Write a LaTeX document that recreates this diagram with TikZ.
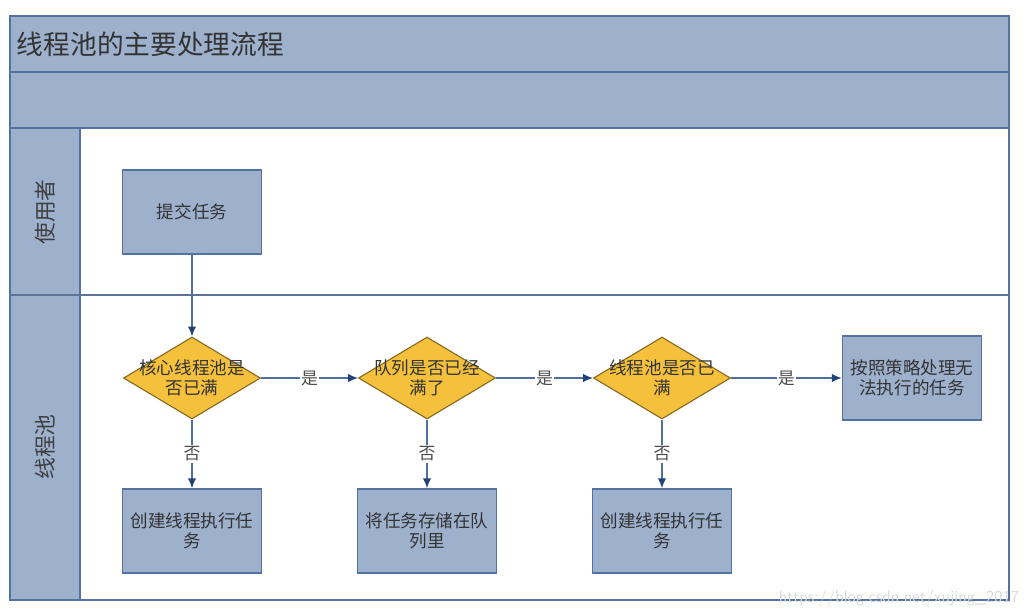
\documentclass[tikz,border=0pt]{standalone}
\usepackage{fontspec}
\newfontfamily\cjk{Noto Sans CJK SC}
\usetikzlibrary{shapes.geometric,arrows.meta}
\definecolor{faixa}{HTML}{9DB0CC}
\definecolor{borda}{HTML}{5272A0}
\definecolor{losango}{HTML}{F5C13D}
\definecolor{seta}{HTML}{4F6F9E}
\definecolor{ponta}{HTML}{23427A}
\tikzset{
  caixa/.style={draw=borda,fill=faixa,line width=1.2pt,minimum width=139*0.025cm,minimum height=84*0.025cm,align=center,font=\cjk\fontsize{12.5}{14}\selectfont,text=black!80},
  decisao/.style={diamond,draw=black!45!losango,fill=losango,line width=0.8pt,inner sep=0pt,minimum width=137*0.025cm,minimum height=82*0.025cm},
  fluxo/.style={draw=seta,line width=1pt,-{Latex[length=7pt,width=6pt,fill=ponta,color=ponta]}},
  rotulo/.style={fill=white,inner sep=1pt,font=\cjk\fontsize{12}{14}\selectfont,text=black!70},
}
\begin{document}
\begin{tikzpicture}[x=0.025cm,y=-0.025cm]
\useasboundingbox (0,0) rectangle (1032,614);

% Faixas
\fill[faixa] (10,16) rectangle (1009,128);
\fill[faixa] (10,128) rectangle (80,600);
\draw[borda,line width=1.5pt] (10,72) -- (1009,72);
\draw[borda,line width=1.5pt] (10,128) -- (1009,128);
\draw[borda,line width=1pt] (80,128) -- (80,600);
\draw[borda!80!gray,line width=1pt] (10,295) -- (1009,295);
\draw[borda,line width=1.8pt] (10,16) rectangle (1009,600);

\node[anchor=west,font=\cjk\fontsize{19}{22}\selectfont,text=black!80] (titulo) at (12,44) {线程池的主要处理流程};
\node[rotate=90,font=\cjk\fontsize{15.5}{18}\selectfont,text=black!75] (usuario) at (45,212) {使用者};
\node[rotate=90,font=\cjk\fontsize{15.5}{18}\selectfont,text=black!75] (pool) at (45,447) {线程池};

% Caixas
\node[caixa] (submeter) at (192,212) {提交任务};
\node[decisao,label={[font=\cjk\fontsize{12.5}{14}\selectfont,align=center,text=black!80]center:核心线程池是\\否已满}] (d1) at (192,378) {};
\node[decisao,label={[font=\cjk\fontsize{12.5}{14}\selectfont,align=center,text=black!80]center:队列是否已经\\满了}] (d2) at (427,378) {};
\node[decisao,label={[font=\cjk\fontsize{12.5}{14}\selectfont,align=center,text=black!80]center:线程池是否已\\满}] (d3) at (662,378) {};
\node[caixa] (politica) at (912,378) {按照策略处理无\\法执行的任务};
\node[caixa] (criar1) at (192,531) {创建线程执行任\\务};
\node[caixa] (fila) at (427,531) {将任务存储在队\\列里};
\node[caixa] (criar2) at (662,531) {创建线程执行任\\务};

% Setas
\draw[fluxo] (submeter) -- (d1);
\draw[fluxo] (d1) -- node[rotulo] {是} (d2);
\draw[fluxo] (d2) -- node[rotulo] {是} (d3);
\draw[fluxo] (d3) -- node[rotulo] {是} (politica);
\draw[fluxo] (d1) -- node[rotulo] {否} (criar1);
\draw[fluxo] (d2) -- node[rotulo] {否} (fila);
\draw[fluxo] (d3) -- node[rotulo] {否} (criar2);

% Marca
\node[anchor=east,font=\fontsize{12}{14}\sffamily,text=black!15] (marca) at (1024,598) {https://blog.csdn.net/xujing\_2017};

\end{tikzpicture}
\end{document}
